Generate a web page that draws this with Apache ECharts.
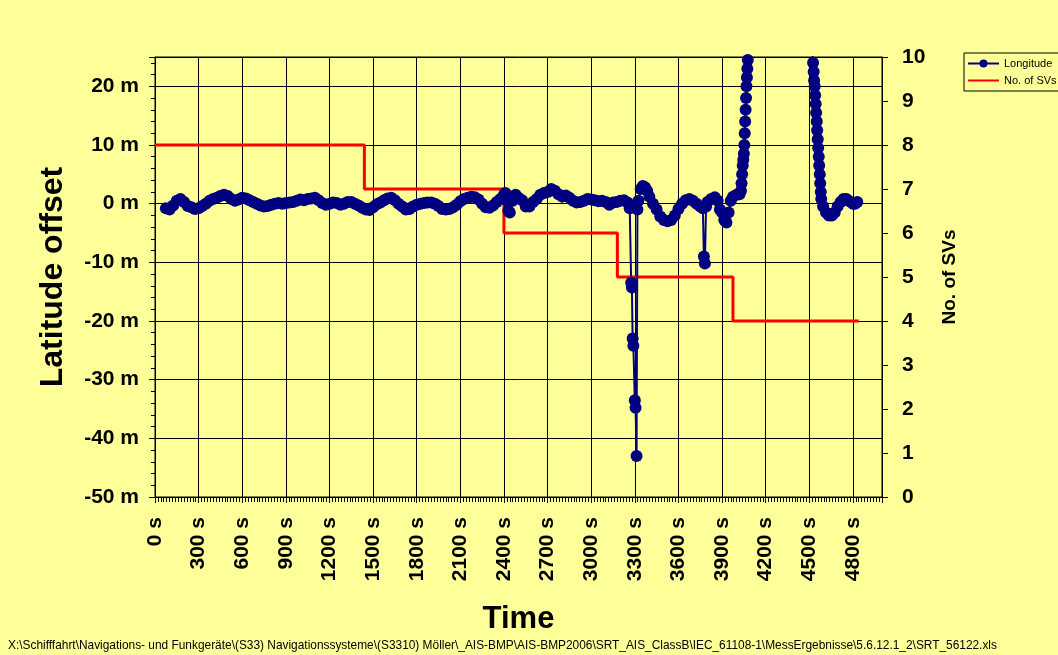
<!DOCTYPE html>
<html>
<head>
<meta charset="utf-8">
<script src="https://cdn.jsdelivr.net/npm/echarts@6/dist/echarts.min.js"></script>
<style>
html,body{margin:0;padding:0;background:#FFFF99;}
#chart{width:1058px;height:655px;}
</style>
</head>
<body>
<div id="chart"></div>
<script>
// Longitude series: time (s) and latitude offset (m)
var lonTimes = [75,100,125,150,175,200,225,250,275,300,325,350,375,400,425,450,475,500,525,550,575,600,625,650,675,700,725,750,775,800,825,850,875,900,925,950,975,1000,1025,1050,1075,1100,1125,1150,1175,1200,1225,1250,1275,1300,1325,1350,1375,1400,1425,1450,1475,1500,1525,1550,1575,1600,1625,1650,1675,1700,1725,1750,1775,1800,1825,1850,1875,1900,1925,1950,1975,2000,2025,2050,2075,2100,2125,2150,2175,2200,2225,2250,2275,2300,2325,2350,2375,2400,2410,2420,2430,2440,2460,2480,2500,2525,2550,2575,2600,2625,2650,2675,2700,2725,2750,2775,2800,2825,2850,2875,2900,2925,2950,2975,3000,3025,3050,3075,3100,3125,3150,3175,3200,3225,3250,3265,3275,3280,3285,3290,3300,3305,3312,3318,3325,3340,3355,3370,3385,3400,3425,3450,3475,3500,3525,3550,3575,3600,3625,3650,3675,3700,3725,3750,3768,3775,3782,3790,3800,3825,3850,3870,3885,3900,3915,3930,3945,3960,3975,4000,4020,4030,4034,4038,4042,4046,4050,4053,4056,4059,4062,4065,4068,4071,4074,4077,4100,4480,4518,4522,4526,4530,4533,4537,4540,4544,4547,4551,4554,4558,4561,4565,4568,4572,4575,4579,4582,4595,4615,4635,4655,4675,4695,4715,4735,4755,4775,4800,4815,4830];
var lonValues = [-0.8,-1.0,-0.3,0.5,0.8,0.3,-0.4,-0.6,-0.9,-0.8,-0.4,0.0,0.5,0.8,1.0,1.3,1.5,1.3,0.8,0.5,0.7,1.0,0.9,0.6,0.3,0.0,-0.3,-0.5,-0.4,-0.2,0.0,0.1,0.0,0.1,0.2,0.3,0.5,0.7,0.6,0.8,0.9,1.0,0.6,0.1,-0.2,0.0,0.2,0.1,-0.2,0.0,0.3,0.3,0.0,-0.3,-0.7,-1.0,-1.1,-0.6,-0.1,0.2,0.6,0.9,1.0,0.6,0.0,-0.5,-1.0,-0.9,-0.5,-0.2,0.0,0.1,0.2,0.2,0.0,-0.4,-0.9,-1.0,-0.9,-0.6,-0.2,0.4,0.8,1.0,1.2,1.1,0.7,0.0,-0.6,-0.7,-0.3,0.3,0.8,1.5,1.8,0.5,-1.2,-1.5,0.5,1.5,1.0,0.6,-0.5,-0.5,0.3,0.8,1.5,1.8,2.0,2.5,2.2,1.6,1.2,1.4,1.0,0.5,0.2,0.3,0.5,0.8,0.7,0.6,0.4,0.5,0.3,-0.2,0.2,0.3,0.5,0.6,0.2,-0.8,-13.5,-14.3,-23.0,-24.2,-33.5,-34.8,-43.0,-1.0,0.5,2.5,3.0,2.8,2.2,1.2,0.0,-1.0,-2.2,-2.8,-3.0,-2.8,-2.0,-0.9,0.0,0.6,0.8,0.5,0.0,-0.5,-0.8,-9.0,-10.2,-0.5,0.3,0.8,1.1,0.5,-1.0,-1.5,-2.8,-3.2,-1.5,0.5,1.2,1.5,1.6,2.2,3.5,5.0,6.5,7.5,8.5,10.0,12.0,14.0,16.0,18.0,20.0,21.5,23.0,24.5,26.0,32.0,32.0,25.5,24.0,22.5,21.0,20.0,18.5,17.0,15.5,14.0,12.5,11.0,9.5,8.0,6.5,5.0,3.5,2.0,0.8,-0.5,-1.5,-2.0,-2.0,-1.5,-0.5,0.3,0.8,0.8,0.4,0.0,0.0,0.3,0.5];
// No. of SVs series (step changes)
var svTimes = [0,1440,2400,3180,3975,4840];
var svCounts = [8,7,6,5,4,4];
// axis ticks
var leftTicks = [-50,-40,-30,-20,-10,0,10,20];
var timeTicks = [0,300,600,900,1200,1500,1800,2100,2400,2700,3000,3300,3600,3900,4200,4500,4800];

var FONT = '"Liberation Sans", Arial, sans-serif';
var lonData = lonTimes.map(function(t,i){return [t, lonValues[i]];});
var svData = svTimes.map(function(t,i){return [t, svCounts[i]];});

var chart = echarts.init(document.getElementById('chart'), null, {renderer:'canvas'});
chart.setOption({
  animation: false,
  backgroundColor: '#FFFF99',
  grid: {left:155, top:57, right:176, bottom:158, show:true, borderColor:'#000', borderWidth:1, backgroundColor:'#FFFF99'},
  legend: {
    orient:'vertical', left:964, top:53, padding:[5,4,5,3], itemGap:6, itemWidth:31, itemHeight:10,
    borderColor:'#000', borderWidth:1, backgroundColor:'#FFFF99',
    textStyle:{fontFamily:FONT, fontSize:11, color:'#000'},
    data:[
      {name:'Longitude'},
      {name:'No. of SVs', itemStyle:{color:'rgba(0,0,0,0)', borderWidth:0, opacity:0}}
    ]
  },
  xAxis: {
    type:'value', min:0, max:5000, interval:300,
    name:'Time', nameLocation:'middle', nameGap:107,
    nameTextStyle:{fontFamily:FONT, fontSize:31, fontWeight:'bold', color:'#000'},
    axisLine:{show:true, onZero:false, lineStyle:{color:'#000', width:1}},
    axisTick:{show:true, length:6, lineStyle:{color:'#000'}},
    minorTick:{show:true, splitNumber:15, length:5, lineStyle:{color:'#000'}},
    splitLine:{show:true, lineStyle:{color:'#000', width:1}},
    axisLabel:{rotate:90, margin:20, fontFamily:FONT, fontSize:21, fontWeight:'bold', color:'#000',
      formatter:function(v){return timeTicks.indexOf(v)>=0 ? v+' s' : '';}}
  },
  yAxis: [{
    type:'value', min:-50, max:25, interval:10, position:'left',
    name:'Latitude offset', nameLocation:'middle', nameGap:86,
    nameTextStyle:{fontFamily:FONT, fontSize:32, fontWeight:'bold', color:'#000'},
    axisLine:{show:true, onZero:false, lineStyle:{color:'#000', width:1}},
    axisTick:{show:true, length:6, lineStyle:{color:'#000'}},
    minorTick:{show:true, splitNumber:5, length:4, lineStyle:{color:'#000'}},
    splitLine:{show:true, lineStyle:{color:'#000', width:1}},
    axisLabel:{margin:16, fontFamily:FONT, fontSize:21, fontWeight:'bold', color:'#000',
      formatter:function(v){return leftTicks.indexOf(v)>=0 ? v+' m' : '';}}
  },{
    type:'value', min:0, max:10, interval:1, position:'right',
    name:'No. of SVs', nameLocation:'middle', nameGap:58,
    nameTextStyle:{fontFamily:FONT, fontSize:19, fontWeight:'bold', color:'#000'},
    axisLine:{show:true, onZero:false, lineStyle:{color:'#000', width:1}},
    axisTick:{show:true, length:6, lineStyle:{color:'#000'}},
    splitLine:{show:false},
    axisLabel:{margin:20, fontFamily:FONT, fontSize:21, fontWeight:'bold', color:'#000'}
  }],
  series: [{
    name:'Longitude', type:'line', yAxisIndex:0, data:lonData,
    symbol:'circle', symbolSize:12, showAllSymbol:true,
    lineStyle:{color:'#000080', width:2}, itemStyle:{color:'#000080', borderWidth:0},
    clip:true, z:3
  },{
    name:'No. of SVs', type:'line', yAxisIndex:1, data:svData, step:'end',
    symbol:'none', showSymbol:false,
    lineStyle:{color:'#FF0000', width:3}, itemStyle:{color:'#FF0000'}, z:2
  }],
  graphic: [{
    type:'text', left:8, top:640,
    style:{text:'X:\\Schifffahrt\\Navigations- und Funkgeräte\\(S33) Navigationssysteme\\(S3310) Möller\\_AIS-BMP\\AIS-BMP2006\\SRT_AIS_ClassB\\IEC_61108-1\\MessErgebnisse\\5.6.12.1_2\\SRT_56122.xls',
      font:'11.9px "Liberation Sans", Arial, sans-serif', fill:'#000'}
  }]
});
</script>
</body>
</html>
